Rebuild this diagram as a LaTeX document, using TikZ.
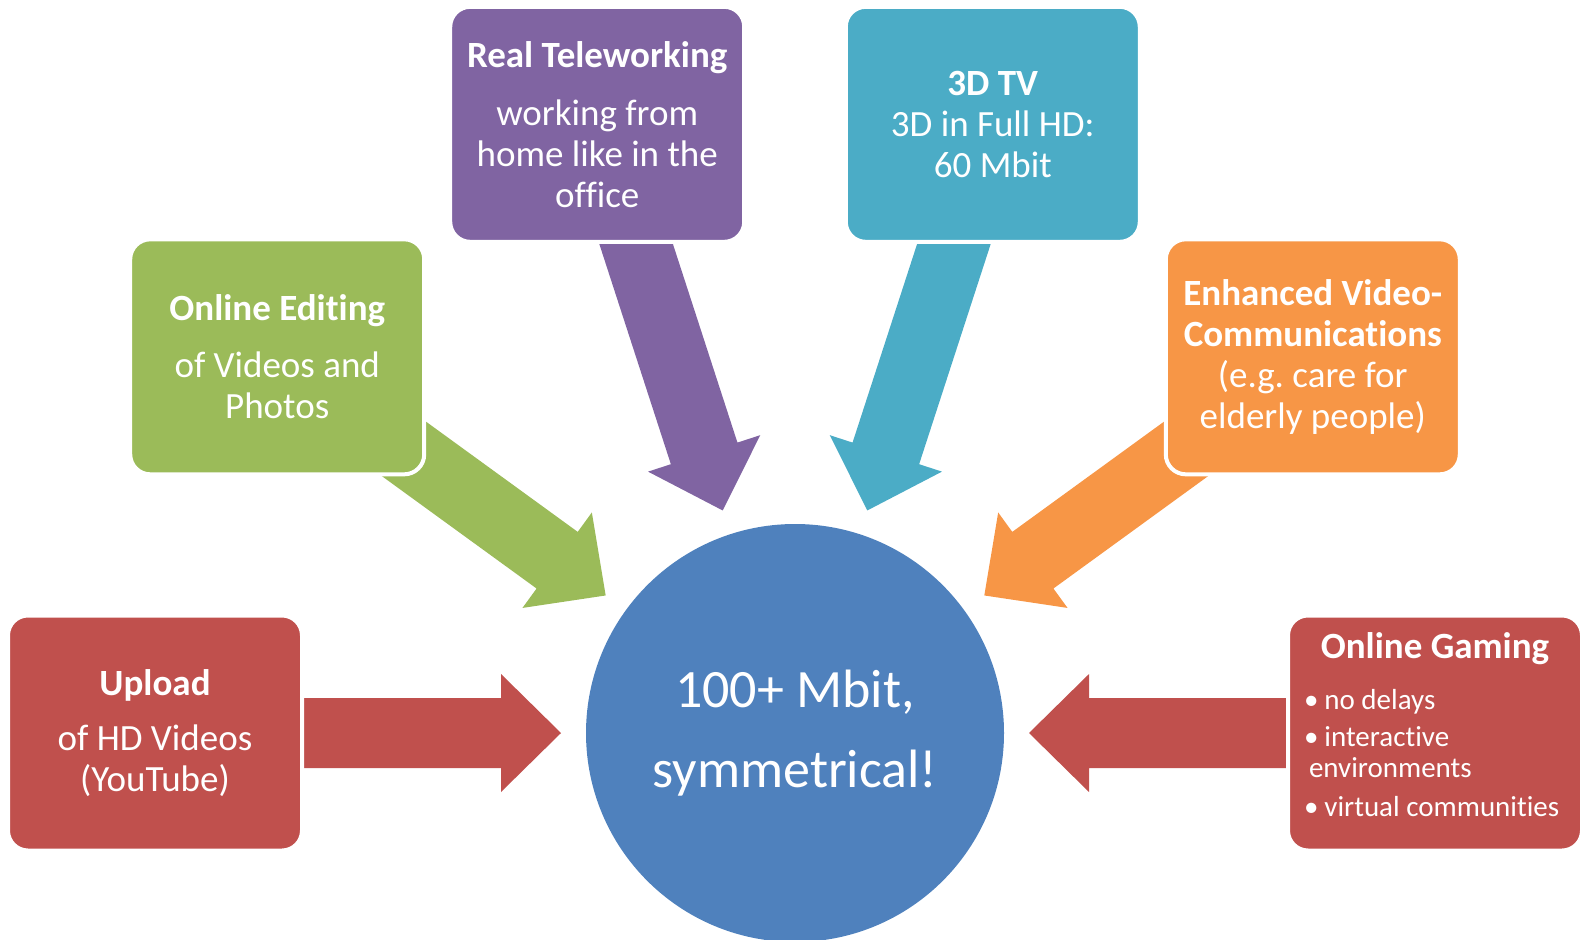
\documentclass[tikz,border=0pt]{standalone}
\usepackage{fontspec}
\setmainfont{Carlito}[Ligatures=NoCommon]
\frenchspacing
\usetikzlibrary{calc,backgrounds}
\definecolor{upred}{HTML}{C0504D}
\definecolor{editgreen}{HTML}{9BBB59}
\definecolor{workpurple}{HTML}{8064A2}
\definecolor{tvteal}{HTML}{4BACC6}
\definecolor{videoorange}{HTML}{F79646}
\definecolor{hubblue}{HTML}{4F81BD}
\def\radarrow#1#2{%
	\coordinate (tip) at ($(hub.center)!234pt!(#1.center)$);
	\coordinate (neck) at ($(tip)!60pt!(#1.center)$);
	\fill[#2] (tip) -- ($(neck)!59pt!90:(#1.center)$) -- ($(neck)!35pt!90:(#1.center)$)
		-- ($(#1.center)!35pt!-90:(neck)$) -- ($(#1.center)!35pt!90:(neck)$)
		-- ($(neck)!35pt!-90:(#1.center)$) -- ($(neck)!59pt!-90:(#1.center)$) -- cycle;}
\def\gamebullet{\textbullet\hspace{6pt}}

\begin{document}
\begin{tikzpicture}[x=1pt, y=1pt,
	appbox/.style={rectangle, rounded corners=20pt, draw=white, line width=4pt,
		minimum width=294pt, minimum height=235pt, text=white, align=center,
		font=\fontsize{37}{41}\selectfont}]
		%%%%% START %%%%%
		\useasboundingbox (0,0) rectangle (1581,-939);
		
		\node[circle, fill=hubblue, minimum size=418pt, text=white, align=center,
			font=\fontsize{54}{80}\selectfont] (hub) at (795,-733) {100+ Mbit,\\symmetrical!};
		
		\node[appbox, fill=upred] (upload) at ($(hub)+(180:640)$)
			{\textbf{Upload}\\[14pt]of HD Videos\\(YouTube)};
		\node[appbox, fill=editgreen] (editing) at ($(hub)+(144:640)$)
			{\textbf{Online Editing}\\[16pt]of Videos and\\Photos};
		\node[appbox, fill=workpurple] (telework) at ($(hub)+(108:640)$)
			{\textbf{Real Teleworking}\\[17pt]working from\\home like in the\\office};
		\node[appbox, fill=tvteal] (tv) at ($(hub)+(72:640)$)
			{\textbf{3D TV}\\3D in Full HD:\\60 Mbit};
		\node[appbox, fill=videoorange] (video) at ($(hub)+(36:640)$)
			{\textbf{Enhanced Video-}\\\textbf{Communications}\\(e.g. care for\\elderly people)};
		\node[appbox, fill=upred, align=left, inner xsep=0pt,
			font=\fontsize{29}{31}\selectfont] (gaming) at ($(hub)+(0:640)$)
			{\makebox[262pt]{\fontsize{37}{41}\selectfont\textbf{Online Gaming}}\\[20pt]
			\gamebullet no delays\\[6pt]
			\gamebullet interactive\\
			\hspace*{5pt}environments\\[8pt]
			\gamebullet virtual communities\rule[-16pt]{0pt}{16pt}};
		
		\begin{pgfonlayer}{background}
			\radarrow{upload}{upred}
			\radarrow{editing}{editgreen}
			\radarrow{telework}{workpurple}
			\radarrow{tv}{tvteal}
			\radarrow{video}{videoorange}
			\radarrow{gaming}{upred}
		\end{pgfonlayer}
		
		%%%%% END %%%%%
\end{tikzpicture}
\end{document}
